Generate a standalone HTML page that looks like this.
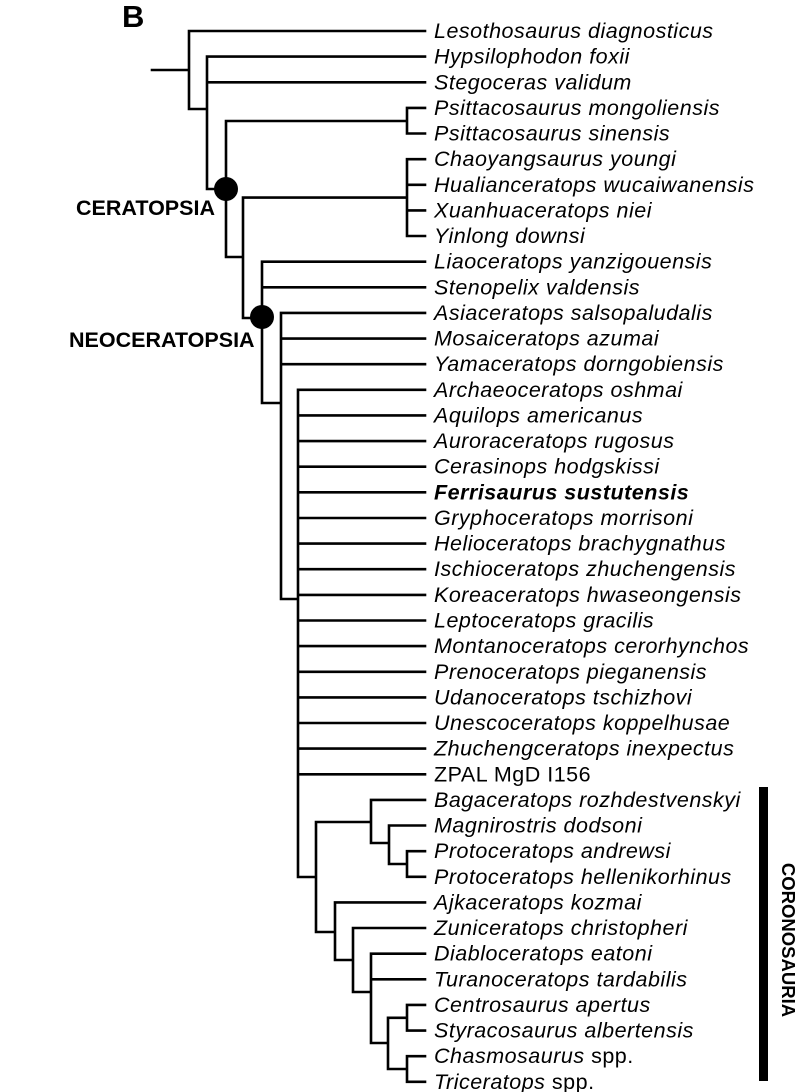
<!DOCTYPE html>
<html><head><meta charset="utf-8"><style>
html,body{margin:0;padding:0;background:#fff;}
svg{display:block;}
text{font-family:"Liberation Sans",Arial,sans-serif;}
</style></head><body>
<svg width="800" height="1092" viewBox="0 0 800 1092" xmlns="http://www.w3.org/2000/svg">
<g stroke="#000" stroke-width="2.6" fill="none" stroke-linecap="square">
<path id="tree" d=""/>
</g>
<g id="lab" font-size="21.5" font-style="italic" fill="#000" letter-spacing="0.5"></g>
<text x="122" y="27" font-size="31" font-weight="bold">B</text>
<text x="76" y="215" font-size="21.5" font-weight="bold">CERATOPSIA</text>
<text x="69" y="347" font-size="21.5" font-weight="bold">NEOCERATOPSIA</text>
<circle cx="226" cy="189" r="12" fill="#000"/>
<circle cx="262" cy="317" r="12" fill="#000"/>
<rect x="759" y="787" width="9" height="294" fill="#000"/>
<text transform="translate(782,940) rotate(90)" font-size="18.5" font-weight="bold" text-anchor="middle">CORONOSAURIA</text>
<script>
var names=["Lesothosaurus diagnosticus","Hypsilophodon foxii","Stegoceras validum","Psittacosaurus mongoliensis","Psittacosaurus sinensis","Chaoyangsaurus youngi","Hualianceratops wucaiwanensis","Xuanhuaceratops niei","Yinlong downsi","Liaoceratops yanzigouensis","Stenopelix valdensis","Asiaceratops salsopaludalis","Mosaiceratops azumai","Yamaceratops dorngobiensis","Archaeoceratops oshmai","Aquilops americanus","Auroraceratops rugosus","Cerasinops hodgskissi","Ferrisaurus sustutensis","Gryphoceratops morrisoni","Helioceratops brachygnathus","Ischioceratops zhuchengensis","Koreaceratops hwaseongensis","Leptoceratops gracilis","Montanoceratops cerorhynchos","Prenoceratops pieganensis","Udanoceratops tschizhovi","Unescoceratops koppelhusae","Zhuchengceratops inexpectus","ZPAL MgD I156","Bagaceratops rozhdestvenskyi","Magnirostris dodsoni","Protoceratops andrewsi","Protoceratops hellenikorhinus","Ajkaceratops kozmai","Zuniceratops christopheri","Diabloceratops eatoni","Turanoceratops tardabilis","Centrosaurus apertus","Styracosaurus albertensis","Chasmosaurus","Triceratops"];
function Y(i){return 31+i*25.63;}
var NS="http://www.w3.org/2000/svg",lab=document.getElementById("lab");
names.forEach(function(n,i){var t=document.createElementNS(NS,"text");t.setAttribute("x",434);t.setAttribute("y",(Y(i)+7).toFixed(1));
if(i==18){t.setAttribute("font-weight","bold");}
if(i==29){t.setAttribute("font-style","normal");}
t.textContent=n;
if(i>=40){var s=document.createElementNS(NS,"tspan");s.setAttribute("font-style","normal");s.textContent=" spp.";t.appendChild(s);}
lab.appendChild(t);});
var d="";
function H(x1,x2,y){d+="M"+x1+" "+y.toFixed(1)+"H"+x2;}
function V(x,y1,y2){d+="M"+x+" "+y1.toFixed(1)+"V"+y2.toFixed(1);}
var T=425;
H(152,189,70);V(189,Y(0),109);H(189,T,Y(0));H(189,207,109);
V(207,Y(1),189);H(207,T,Y(1));H(207,T,Y(2));H(207,226,189);
V(226,121,257);H(226,407,121);V(407,Y(3),Y(4));H(407,T,Y(3));H(407,T,Y(4));H(226,243,257);
var cy=(Y(5)+Y(8))/2;V(243,cy,318);H(243,407,cy);V(407,Y(5),Y(8));for(var i=5;i<=8;i++)H(407,T,Y(i));H(243,262,318);
V(262,Y(9),403);H(262,T,Y(9));H(262,T,Y(10));H(262,281,403);
V(281,Y(11),599);for(i=11;i<=13;i++)H(281,T,Y(i));H(281,298,599);
V(298,Y(14),877);for(i=14;i<=29;i++)H(298,T,Y(i));H(298,316,877);
V(316,822,932);H(316,371,822);H(316,335,932);
V(371,Y(30),843);H(371,T,Y(30));H(371,389,843);
V(389,Y(31),864);H(389,T,Y(31));H(389,407,864);
V(407,Y(32),Y(33));H(407,T,Y(32));H(407,T,Y(33));
V(335,Y(34),960);H(335,T,Y(34));H(335,353,960);
V(353,Y(35),992);H(353,T,Y(35));H(353,371,992);
V(371,Y(36),1043);H(371,T,Y(36));H(371,T,Y(37));H(371,388,1043);
var c1=(Y(38)+Y(39))/2,c2=(Y(40)+Y(41))/2;
V(388,c1,c2);H(388,407,c1);H(388,407,c2);
V(407,Y(38),Y(39));V(407,Y(40),Y(41));for(i=38;i<=41;i++)H(407,T,Y(i));
document.getElementById("tree").setAttribute("d",d);
</script>
</svg>
</body></html>
